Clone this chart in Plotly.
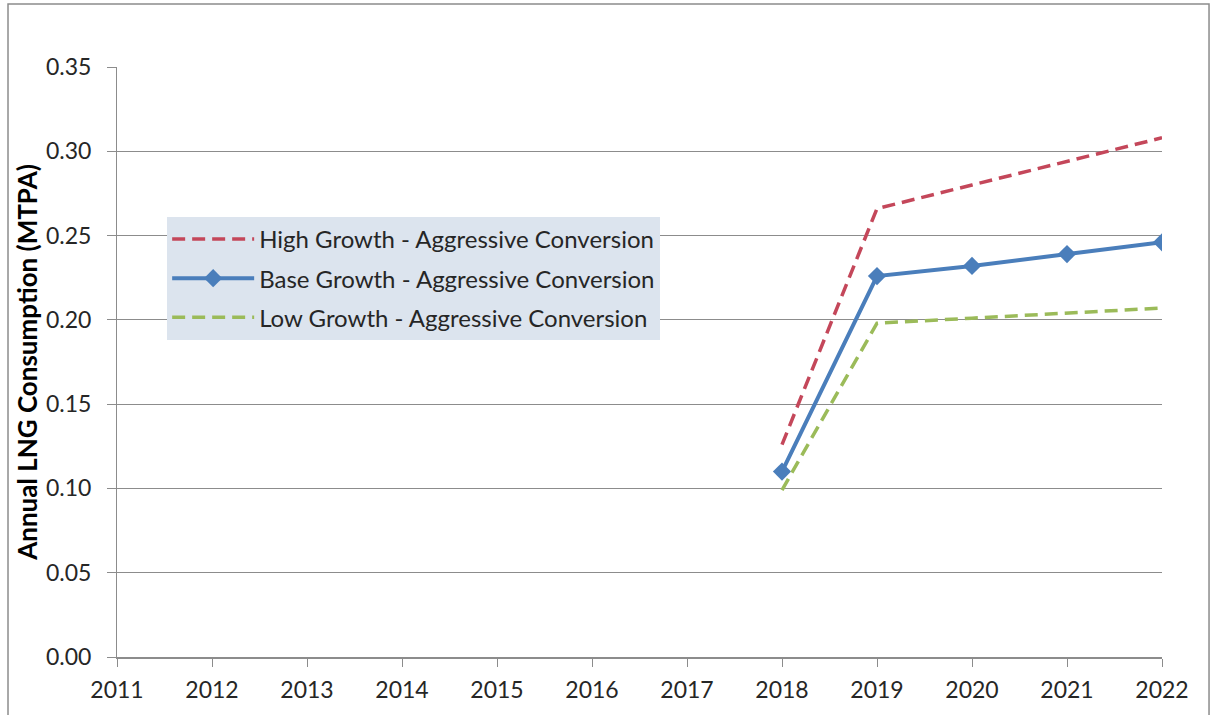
import plotly.graph_objects as go

years = [2018, 2019, 2020, 2021, 2022]
high_growth = [0.126, 0.266, 0.280, 0.294, 0.308]
base_growth = [0.110, 0.226, 0.232, 0.239, 0.246]
low_growth = [0.099, 0.198, 0.201, 0.204, 0.207]
x_ticks = list(range(2011, 2023))
y_ticks = [0.00, 0.05, 0.10, 0.15, 0.20, 0.25, 0.30, 0.35]

FONT = "Lato"
TXT = "#262626"

fig = go.Figure()
fig.add_trace(go.Scatter(
    x=years, y=high_growth, mode="lines",
    name="High Growth - Aggressive Conversion", legendgroup="a",
    line=dict(color="#C4475A", width=3.5, dash="13px,7px"),
))
fig.add_trace(go.Scatter(
    x=years, y=base_growth, mode="lines+markers",
    name="Base Growth - Aggressive Conversion", legendgroup="b",
    line=dict(color="#4A7EBB", width=4),
    marker=dict(symbol="diamond", size=14, color="#4A7EBB"),
))
fig.add_trace(go.Scatter(
    x=years, y=low_growth, mode="lines",
    name="Low Growth - Aggressive Conversion", legendgroup="c",
    line=dict(color="#9BBB59", width=3.5, dash="13px,7px"),
))

fig.update_layout(
    width=1216, height=715,
    margin=dict(l=117, r=54, t=67, b=58),
    paper_bgcolor="white", plot_bgcolor="white",
    font=dict(family=FONT, size=20, color=TXT),
    showlegend=True,
    legend=dict(
        x=0.048, y=0.746, xanchor="left", yanchor="top",
        bgcolor="rgb(220,228,238)",
        font=dict(family=FONT, size=24, color=TXT),
        tracegroupgap=5,
        itemwidth=82,
    ),
    xaxis=dict(
        range=[2011, 2022], tickvals=x_ticks, ticktext=[str(v) for v in x_ticks],
        showgrid=False, zeroline=False,
        showline=True, linecolor="#8c8c8c", linewidth=1.5,
        ticks="outside", ticklen=8, tickcolor="#8c8c8c",
        ticklabelstandoff=4,
        tickfont=dict(family=FONT, size=23, color=TXT),
    ),
    yaxis=dict(
        range=[0, 0.35], tickvals=y_ticks, tickformat=".2f",
        showgrid=True, gridcolor="#8c8c8c", gridwidth=1,
        zeroline=False,
        showline=True, linecolor="#8c8c8c", linewidth=1,
        ticks="outside", ticklen=9, tickcolor="#8c8c8c",
        ticklabelstandoff=11,
        tickfont=dict(family=FONT, size=23, color=TXT),
        title=dict(text="<b>Annual LNG Consumption (MTPA)</b>", standoff=0,
                   font=dict(family=FONT, size=26, color="black")),
    ),
    shapes=[dict(
        type="rect", xref="paper", yref="paper",
        x0=-0.1043, x1=1.045, y0=-0.11, y1=1.1068,
        line=dict(color="#8c8c8c", width=1.5), fillcolor="rgba(0,0,0,0)",
        layer="below",
    )],
)

fig.write_html("out.html")
